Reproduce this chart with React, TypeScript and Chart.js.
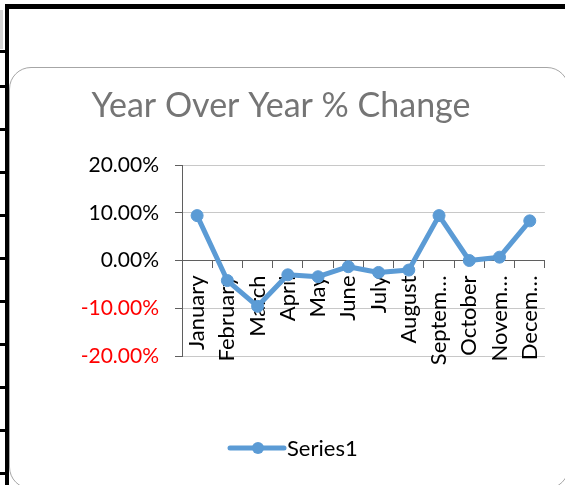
import React, { useEffect, useRef } from 'react';
import { Chart, registerables } from 'chart.js';

Chart.register(...registerables);

const chartTitle = 'Year Over Year % Change';
const seriesName = 'Series1';
const months = ['January', 'February', 'March', 'April', 'May', 'June', 'July', 'August', 'September', 'October', 'November', 'December'];
const tickLabels = ['January', 'February', 'March', 'April', 'May', 'June', 'July', 'August', 'Septem…', 'October', 'Novem…', 'Decem…'];
const yoyChange = [9.4, -4.2, -9.6, -3.0, -3.4, -1.3, -2.5, -2.0, 9.4, 0.0, 0.7, 8.3];
const yMin = -20;
const yMax = 20;
const yStep = 10;

const lineColor = '#5b9bd5';
const axisColor = '#5f5f5f';
const gridColor = '#c8c8c8';
const fontFamily = 'Lato, "Open Sans", sans-serif';

const stubYs = [50, 85, 128, 171, 214, 257, 300, 343, 386, 429, 472];

const decorPlugin = {
  id: 'decor',
  afterDraw(chart: any) {
    const ctx = chart.ctx as CanvasRenderingContext2D;
    ctx.save();
    ctx.font = `34px ${fontFamily}`;
    ctx.fillStyle = '#757575';
    ctx.textAlign = 'center';
    ctx.textBaseline = 'alphabetic';
    ctx.fillText(chartTitle, 281, 117);

    const ly = 448;
    ctx.strokeStyle = lineColor;
    ctx.lineWidth = 5;
    ctx.lineCap = 'round';
    ctx.beginPath();
    ctx.moveTo(230, ly);
    ctx.lineTo(284, ly);
    ctx.stroke();
    ctx.fillStyle = lineColor;
    ctx.beginPath();
    ctx.arc(258, ly, 6, 0, Math.PI * 2);
    ctx.fill();

    ctx.font = `22px ${fontFamily}`;
    ctx.fillStyle = '#000';
    ctx.textAlign = 'left';
    ctx.fillText(seriesName, 287, 456);
    ctx.restore();
  },
};

export default function App() {
  const ref = useRef<HTMLCanvasElement | null>(null);

  useEffect(() => {
    if (!ref.current) return;
    const chart = new Chart(ref.current, {
      type: 'line',
      data: {
        labels: months,
        datasets: [
          {
            label: seriesName,
            data: yoyChange,
            borderColor: lineColor,
            backgroundColor: lineColor,
            borderWidth: 5,
            borderJoinStyle: 'round',
            borderCapStyle: 'round',
            pointRadius: 6,
            pointBorderWidth: 1,
            pointBackgroundColor: lineColor,
            pointBorderColor: lineColor,
            tension: 0,
            fill: false,
          },
        ],
      },
      options: {
        responsive: false,
        animation: false,
        devicePixelRatio: 1,
        layout: { padding: { left: 82, right: 20, top: 165, bottom: 129 } },
        plugins: {
          legend: { display: false },
          title: { display: false },
          tooltip: { enabled: false },
        },
        scales: {
          x: {
            type: 'category',
            position: { y: 0 } as any,
            offset: true,
            grid: {
              display: true,
              drawOnChartArea: false,
              drawTicks: true,
              tickLength: 7,
              offset: true,
              color: axisColor,
              tickColor: axisColor,
            },
            border: { display: true, color: axisColor, width: 1 },
            ticks: {
              autoSkip: false,
              minRotation: 90,
              maxRotation: 90,
              padding: 8,
              color: '#000',
              font: { family: fontFamily, size: 22 },
              callback: (_v: any, i: number) => tickLabels[i],
            },
          },
          y: {
            type: 'linear',
            min: yMin,
            max: yMax,
            afterFit: (s: any) => {
              s.width = 100;
            },
            border: { display: true, color: axisColor, width: 1 },
            grid: {
              color: (c: any) => (c.tick && c.tick.value === 0 ? axisColor : gridColor),
              tickColor: axisColor,
              tickLength: 7,
              lineWidth: 1,
            },
            ticks: {
              stepSize: yStep,
              padding: 16,
              font: { family: fontFamily, size: 21 },
              color: (c: any) => (c.tick && c.tick.value < 0 ? '#ff0000' : '#000'),
              callback: (v: any) => `${Number(v).toFixed(2)}%`,
            },
          },
        },
      },
      plugins: [decorPlugin],
    } as any);
    return () => chart.destroy();
  }, []);

  return (
    <div style={{ position: 'fixed', left: 0, top: 0, width: 565, height: 485, overflow: 'hidden', background: '#fff' }}>
      <div style={{ position: 'absolute', left: 0, top: 10, width: 3, height: 39, background: '#d4d4d4' }} />
      <div
        style={{
          position: 'absolute',
          left: 9,
          top: 67,
          width: 558,
          height: 420,
          border: '1px solid #a6a6a6',
          borderRadius: 22,
          background: '#fff',
        }}
      />
      <div style={{ position: 'absolute', left: 5, top: 4, width: 560, height: 5, background: '#000' }} />
      <div style={{ position: 'absolute', left: 5, top: 4, width: 4, height: 481, background: '#000' }} />
      {stubYs.map((y) => (
        <div key={y} style={{ position: 'absolute', left: 0, top: y, width: 5, height: 3, background: '#000' }} />
      ))}
      <canvas ref={ref} width={565} height={485} style={{ position: 'absolute', left: 0, top: 0, width: 565, height: 485 }} />
    </div>
  );
}
